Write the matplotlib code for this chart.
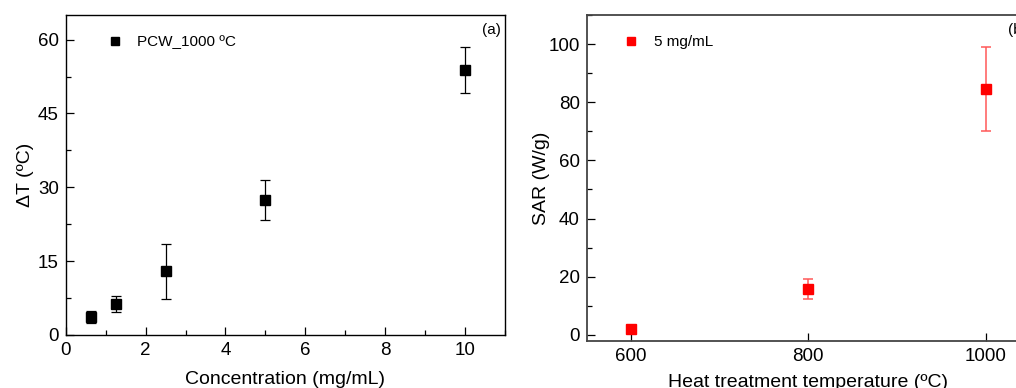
import matplotlib
matplotlib.use("Agg")
import matplotlib.pyplot as plt
from matplotlib.ticker import MultipleLocator

plt.rcParams["font.family"] = ["Liberation Sans", "DejaVu Sans"]

# (a) temperature rise vs concentration
conc = [0.625, 1.25, 2.5, 5, 10]
dT = [3.7, 6.3, 12.9, 27.4, 53.8]
dT_err = [1.2, 1.7, 5.5, 4.0, 4.7]

# (b) SAR vs heat treatment temperature
temp = [600, 800, 1000]
sar = [2.1, 15.9, 84.6]
sar_err = [0.4, 3.4, 14.5]

fig = plt.figure(figsize=(10.16, 3.88), dpi=100)
ax1 = fig.add_axes([0.0647, 0.1366, 0.4323, 0.8247])
ax2 = fig.add_axes([0.5774, 0.1219, 0.4364, 0.8394])

# panel a
eb1 = ax1.errorbar(conc, dT, yerr=dT_err, fmt="s", color="black", ms=6.5,
                   ecolor="black", elinewidth=0.9, capsize=3.5, capthick=0.9)
ax1.set_xlim(0, 11)
ax1.set_ylim(0, 65)
ax1.xaxis.set_major_locator(MultipleLocator(2))
ax1.xaxis.set_minor_locator(MultipleLocator(1))
ax1.yaxis.set_major_locator(MultipleLocator(15))
ax1.yaxis.set_minor_locator(MultipleLocator(7.5))
ax1.set_xlabel("Concentration (mg/mL)", fontsize=14, labelpad=9)
ax1.set_ylabel("ΔT (ºC)", fontsize=14, labelpad=3)
ax1.text(0.99, 0.975, "(a)", transform=ax1.transAxes, ha="right", va="top",
         fontsize=11)
ax1.legend([eb1[0]], ["PCW_1000 ºC"], loc="upper left",
           bbox_to_anchor=(0.045, 0.98), frameon=False, fontsize=11,
           handletextpad=0.5, markerscale=0.8)

# panel b
eb2 = ax2.errorbar(temp, sar, yerr=sar_err, fmt="s", color="red", ms=6.5,
                   ecolor=(1, 0.35, 0.35), elinewidth=1.1, capsize=3.5,
                   capthick=1.1)
ax2.set_xlim(550, 1050)
ax2.set_ylim(-2, 110)
ax2.set_xticks(temp)
ax2.yaxis.set_major_locator(MultipleLocator(20))
ax2.yaxis.set_minor_locator(MultipleLocator(10))
ax2.set_xlabel("Heat treatment temperature (ºC)", fontsize=14, labelpad=7)
ax2.set_ylabel("SAR (W/g)", fontsize=14, labelpad=-1)
ax2.text(0.95, 0.975, "(b)", transform=ax2.transAxes, ha="left", va="top",
         fontsize=11)
ax2.legend([eb2[0]], ["5 mg/mL"], loc="upper left",
           bbox_to_anchor=(0.035, 0.98), frameon=False, fontsize=11,
           handletextpad=0.5, markerscale=0.8)

for ax in (ax1, ax2):
    ax.tick_params(which="both", direction="in", labelsize=13.5, pad=5)
    ax.tick_params(which="major", length=6, width=0.9)
    ax.tick_params(which="minor", length=3.5, width=0.9)
    for s in ax.spines.values():
        s.set_linewidth(1.0)
for s in ax2.spines.values():
    s.set_color("#444444")
    s.set_linewidth(1.3)

fig.savefig("out.png", dpi=100)
